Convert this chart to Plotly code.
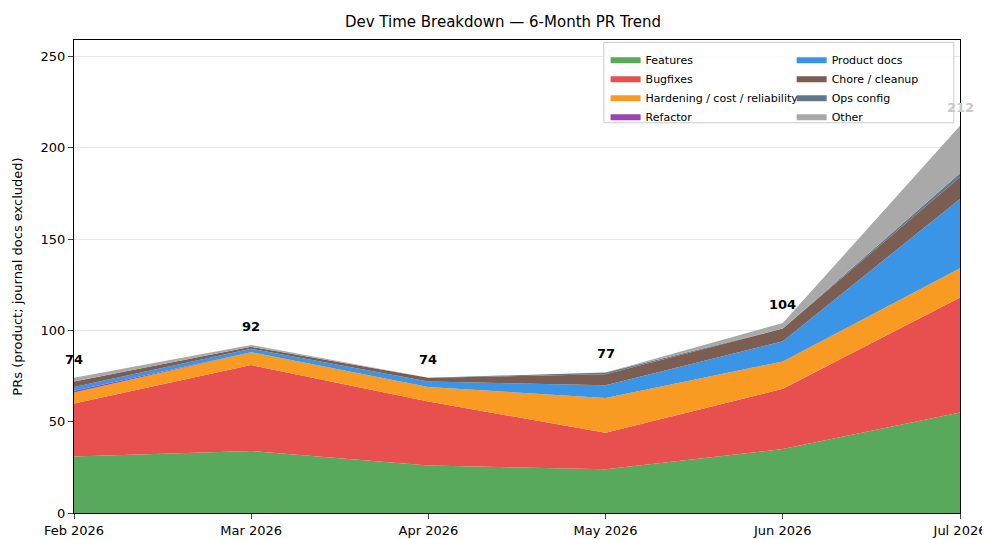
import plotly.graph_objects as go

months = ["Feb 2026", "Mar 2026", "Apr 2026", "May 2026", "Jun 2026", "Jul 2026"]
features = [31, 34, 26, 24, 35, 55]
bugfixes = [29, 47, 35, 20, 33, 63]
hardening = [6, 7, 8, 19, 15, 16]
refactor = [1, 0, 0, 0, 0, 0]
product_docs = [2, 2, 3, 7, 11, 38]
chore = [3, 1, 2, 6, 7, 12]
ops_config = [0, 0, 0, 1, 0, 2]
other = [2, 1, 0, 0, 3, 26]
totals = [74, 92, 74, 77, 104, 212]

series = [
    ("Features", features, "#59a95c", "legend"),
    ("Bugfixes", bugfixes, "#e8504f", "legend"),
    ("Hardening / cost / reliability", hardening, "#f99a22", "legend"),
    ("Refactor", refactor, "#9c42b5", "legend"),
    ("Product docs", product_docs, "#3b95e6", "legend2"),
    ("Chore / cleanup", chore, "#7b5d52", "legend2"),
    ("Ops config", ops_config, "#627889", "legend2"),
    ("Other", other, "#a9a9a9", "legend2"),
]

x = list(range(len(months)))
fig = go.Figure()
for name, vals, color, leg in series:
    fig.add_trace(go.Scatter(x=x, y=vals, name=name, stackgroup="one", mode="lines",
                             line=dict(width=0, color=color), fillcolor=color,
                             legend=leg))

for i, t in enumerate(totals):
    fig.add_annotation(x=i, y=t + 5, text=f"<b>{t}</b>", showarrow=False,
                       yanchor="bottom", font=dict(size=13, color="#c8c8c8" if i == 5 else "black"))

fig.add_shape(type="rect", xref="paper", yref="paper", x0=0.598, x1=0.993, y0=0.825, y1=0.995,
              line=dict(color="#cccccc", width=1), fillcolor="rgba(255,255,255,0.8)", layer="above")

legcommon = dict(orientation="v", yanchor="top", y=0.99, traceorder="normal",
                 font=dict(size=11), bgcolor="rgba(0,0,0,0)", tracegroupgap=0,
                 itemwidth=30)
fig.update_layout(
    width=990, height=539, paper_bgcolor="white", plot_bgcolor="white",
    margin=dict(l=66, r=38, t=32, b=34),
    font=dict(family="DejaVu Sans", size=12, color="black"),
    title=dict(text="Dev Time Breakdown — 6-Month PR Trend", x=0.5, xanchor="center",
               y=0.985, yanchor="top", font=dict(size=15)),
    showlegend=True,
    legend=dict(x=0.6, xanchor="left", **legcommon),
    legend2=dict(x=0.81, xanchor="left", **legcommon),
)
fig.update_xaxes(range=[0, 5], tickmode="array", tickvals=x, ticktext=months,
                 showgrid=False, showline=True, linecolor="black", mirror=True,
                 ticks="outside", tickfont=dict(size=13), automargin=False)
fig.update_yaxes(range=[0, 259], tickvals=[0, 50, 100, 150, 200, 250],
                 showgrid=True, gridcolor="#e6e6e6", showline=True, linecolor="black",
                 mirror=True, ticks="outside", tickfont=dict(size=13), automargin=False,
                 title=dict(text="PRs (product; journal docs excluded)", font=dict(size=13)))
fig.write_html("out.html")
